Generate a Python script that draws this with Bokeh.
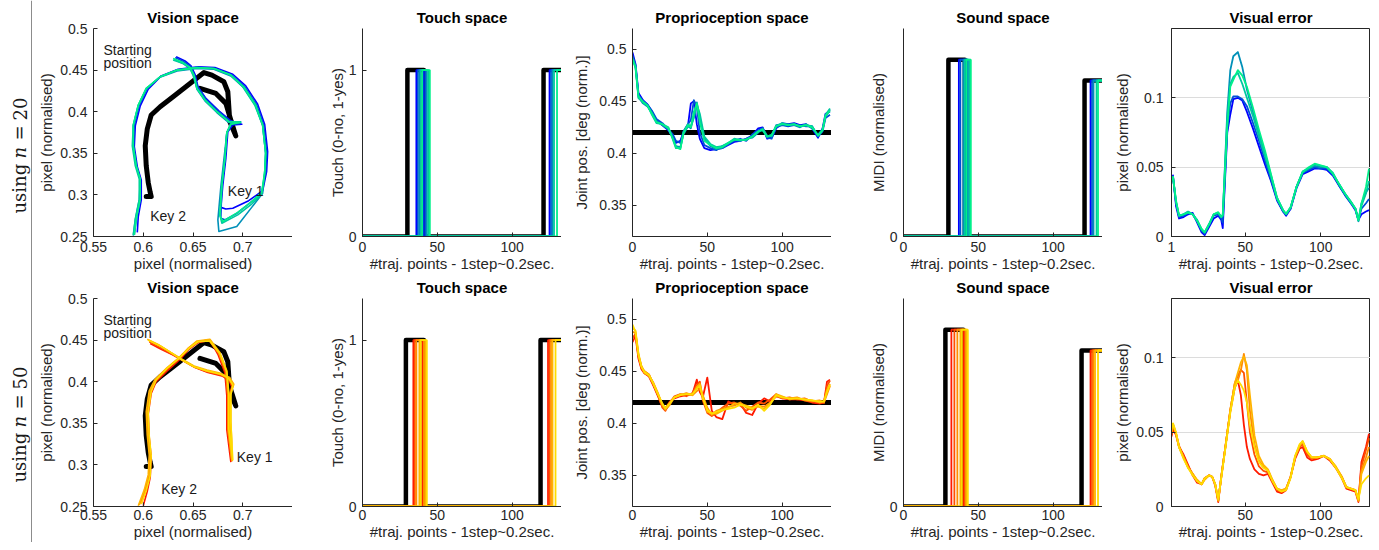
import math
from bokeh.plotting import figure
from bokeh.layouts import row, column
from bokeh.models import Range1d, FixedTicker, Label, Span, CustomJSTickFormatter
from bokeh.embed import file_html
from bokeh.resources import INLINE

# ---------------------------------------------------------------- data
N_STEPS = 133

colors20 = ["#0000ff", "#0050d8", "#0090b8", "#00c8a0", "#00f08a"]
colors50 = ["#ff1a00", "#ff5000", "#ff8c00", "#ffb400", "#ffdc00"]

# Vision space - target (black) trajectory
vis_target_x = [0.657, 0.673, 0.683, 0.688, 0.693, 0.687, 0.685, 0.681, 0.669, 0.661, 0.647,
                0.630, 0.617, 0.608, 0.604, 0.602, 0.603, 0.605, 0.607, 0.608, 0.603]
vis_target_y = [0.428, 0.422, 0.410, 0.390, 0.371, 0.388, 0.424, 0.436, 0.444, 0.447, 0.434,
                0.418, 0.406, 0.396, 0.379, 0.359, 0.335, 0.315, 0.303, 0.298, 0.298]

# Vision space - n = 20 trials
vis20_x = [
    [0.633, 0.642, 0.648, 0.652, 0.655, 0.663, 0.676, 0.688, 0.699, 0.690, 0.685, 0.683, 0.680, 0.678, 0.683, 0.690, 0.706, 0.720, 0.724, 0.725, 0.722, 0.715, 0.703, 0.690, 0.672, 0.655, 0.635, 0.618, 0.605, 0.597, 0.592, 0.591, 0.594, 0.598, 0.598, 0.595, 0.594],
    [0.632, 0.641, 0.648, 0.651, 0.655, 0.663, 0.675, 0.687, 0.697, 0.689, 0.684, 0.682, 0.679, 0.678, 0.682, 0.693, 0.707, 0.719, 0.723, 0.724, 0.721, 0.714, 0.702, 0.689, 0.672, 0.654, 0.634, 0.617, 0.604, 0.596, 0.591, 0.590, 0.593, 0.597, 0.597, 0.593, 0.591],
    [0.631, 0.640, 0.647, 0.651, 0.654, 0.662, 0.674, 0.686, 0.698, 0.688, 0.684, 0.681, 0.678, 0.675, 0.676, 0.694, 0.709, 0.720, 0.722, 0.723, 0.720, 0.713, 0.701, 0.688, 0.671, 0.654, 0.634, 0.616, 0.603, 0.595, 0.590, 0.590, 0.593, 0.597, 0.596, 0.592, 0.590],
    [0.630, 0.640, 0.647, 0.650, 0.654, 0.662, 0.674, 0.686, 0.697, 0.688, 0.684, 0.682, 0.679, 0.677, 0.679, 0.695, 0.709, 0.719, 0.722, 0.723, 0.720, 0.712, 0.700, 0.688, 0.671, 0.654, 0.634, 0.617, 0.603, 0.595, 0.590, 0.589, 0.592, 0.596, 0.596, 0.592, 0.590],
    [0.630, 0.640, 0.647, 0.651, 0.654, 0.662, 0.674, 0.686, 0.698, 0.688, 0.684, 0.682, 0.679, 0.677, 0.680, 0.695, 0.708, 0.719, 0.722, 0.723, 0.720, 0.713, 0.701, 0.688, 0.671, 0.654, 0.634, 0.617, 0.603, 0.595, 0.590, 0.590, 0.593, 0.597, 0.597, 0.593, 0.591],
]
vis20_y = [
    [0.466, 0.461, 0.455, 0.445, 0.430, 0.416, 0.401, 0.389, 0.385, 0.384, 0.376, 0.344, 0.312, 0.285, 0.283, 0.284, 0.293, 0.305, 0.328, 0.352, 0.385, 0.409, 0.431, 0.445, 0.453, 0.454, 0.451, 0.443, 0.427, 0.407, 0.383, 0.358, 0.334, 0.318, 0.294, 0.274, 0.255],
    [0.465, 0.460, 0.454, 0.445, 0.429, 0.415, 0.401, 0.389, 0.386, 0.385, 0.375, 0.343, 0.311, 0.272, 0.270, 0.277, 0.290, 0.302, 0.327, 0.351, 0.384, 0.408, 0.430, 0.444, 0.452, 0.453, 0.450, 0.442, 0.428, 0.408, 0.384, 0.359, 0.335, 0.319, 0.295, 0.271, 0.252],
    [0.463, 0.458, 0.452, 0.443, 0.427, 0.413, 0.399, 0.387, 0.388, 0.386, 0.374, 0.342, 0.310, 0.270, 0.256, 0.262, 0.285, 0.302, 0.326, 0.350, 0.383, 0.407, 0.429, 0.443, 0.451, 0.452, 0.449, 0.441, 0.427, 0.407, 0.383, 0.358, 0.334, 0.318, 0.294, 0.270, 0.251],
    [0.462, 0.458, 0.452, 0.444, 0.428, 0.414, 0.400, 0.388, 0.388, 0.385, 0.375, 0.343, 0.311, 0.276, 0.266, 0.276, 0.289, 0.301, 0.326, 0.350, 0.384, 0.408, 0.430, 0.444, 0.452, 0.453, 0.450, 0.442, 0.428, 0.408, 0.384, 0.359, 0.335, 0.319, 0.295, 0.271, 0.252],
    [0.464, 0.459, 0.453, 0.444, 0.428, 0.414, 0.400, 0.388, 0.387, 0.385, 0.375, 0.343, 0.311, 0.275, 0.268, 0.279, 0.291, 0.303, 0.327, 0.351, 0.384, 0.408, 0.430, 0.444, 0.452, 0.453, 0.450, 0.442, 0.428, 0.408, 0.384, 0.359, 0.335, 0.319, 0.295, 0.271, 0.252],
]

# Vision space - n = 50 trials
vis50_x = [
    [0.607, 0.618, 0.630, 0.640, 0.652, 0.665, 0.679, 0.686, 0.689, 0.686, 0.686, 0.687, 0.688, 0.684, 0.684, 0.682, 0.675, 0.667, 0.655, 0.646, 0.637, 0.625, 0.613, 0.608, 0.605, 0.606, 0.608, 0.607, 0.604, 0.600],
    [0.606, 0.617, 0.629, 0.640, 0.651, 0.664, 0.678, 0.686, 0.690, 0.687, 0.687, 0.688, 0.689, 0.685, 0.685, 0.683, 0.676, 0.666, 0.654, 0.645, 0.636, 0.624, 0.612, 0.607, 0.604, 0.605, 0.607, 0.606, 0.602, 0.598],
    [0.605, 0.617, 0.629, 0.639, 0.651, 0.664, 0.678, 0.686, 0.690, 0.687, 0.687, 0.688, 0.689, 0.685, 0.685, 0.683, 0.676, 0.666, 0.654, 0.646, 0.636, 0.624, 0.612, 0.607, 0.604, 0.605, 0.607, 0.606, 0.602, 0.596],
    [0.604, 0.616, 0.628, 0.639, 0.651, 0.664, 0.678, 0.687, 0.691, 0.688, 0.688, 0.689, 0.689, 0.686, 0.686, 0.684, 0.677, 0.667, 0.654, 0.646, 0.636, 0.624, 0.612, 0.606, 0.603, 0.604, 0.606, 0.605, 0.601, 0.595],
    [0.605, 0.617, 0.629, 0.639, 0.651, 0.664, 0.678, 0.686, 0.690, 0.688, 0.688, 0.689, 0.690, 0.686, 0.686, 0.684, 0.677, 0.667, 0.655, 0.646, 0.636, 0.624, 0.613, 0.608, 0.605, 0.606, 0.608, 0.607, 0.603, 0.598],
]
vis50_y = [
    [0.446, 0.439, 0.432, 0.425, 0.417, 0.411, 0.407, 0.402, 0.394, 0.382, 0.350, 0.326, 0.304, 0.342, 0.383, 0.411, 0.433, 0.450, 0.447, 0.439, 0.427, 0.414, 0.400, 0.386, 0.361, 0.333, 0.309, 0.285, 0.268, 0.251],
    [0.448, 0.441, 0.433, 0.426, 0.418, 0.412, 0.408, 0.403, 0.395, 0.383, 0.351, 0.327, 0.305, 0.343, 0.384, 0.412, 0.434, 0.450, 0.448, 0.440, 0.428, 0.415, 0.401, 0.387, 0.362, 0.334, 0.310, 0.286, 0.270, 0.253],
    [0.450, 0.443, 0.434, 0.426, 0.418, 0.413, 0.409, 0.404, 0.396, 0.384, 0.351, 0.327, 0.305, 0.343, 0.384, 0.412, 0.434, 0.450, 0.448, 0.440, 0.428, 0.416, 0.402, 0.388, 0.363, 0.335, 0.311, 0.287, 0.269, 0.252],
    [0.451, 0.444, 0.435, 0.427, 0.419, 0.414, 0.410, 0.405, 0.397, 0.385, 0.352, 0.328, 0.306, 0.344, 0.385, 0.413, 0.435, 0.451, 0.449, 0.441, 0.429, 0.417, 0.403, 0.389, 0.364, 0.336, 0.312, 0.288, 0.270, 0.251],
    [0.450, 0.443, 0.434, 0.426, 0.418, 0.413, 0.409, 0.404, 0.396, 0.384, 0.351, 0.327, 0.306, 0.343, 0.384, 0.412, 0.434, 0.449, 0.448, 0.440, 0.428, 0.416, 0.402, 0.388, 0.363, 0.335, 0.311, 0.287, 0.269, 0.253],
]

# Touch / sound: target (black) onset, offset, second onset; trial onsets/offsets
touch_level = 1.0
sound_level1 = 0.85
sound_level2 = 0.75

touch20_target = [30, 41, 121]
touch20_on1 = [36, 37, 38, 39, 40]
touch20_off1 = [41, 42, 43, 44, 45]
touch20_on2 = [125, 126, 127, 128, 130]

sound20_target = [30, 41, 121]
sound20_on1 = [37, 38, 40, 41, 42]
sound20_off1 = [42, 43, 43, 44, 45]
sound20_on2 = [125, 126, 127, 129, 130]

touch50_target = [29, 41, 119]
touch50_on1 = [34, 35, 36, 38, 39]
touch50_off1 = [40, 41, 41, 42, 43]
touch50_on2 = [124, 125, 126, 127, 129]

sound50_target = [28, 40, 119]
sound50_on1 = [32, 34, 36, 38, 39]
sound50_off1 = [40, 41, 42, 42, 43]
sound50_on2 = [125, 126, 127, 128, 130]

# Proprioception
prop_target_x = [0, 133]
prop_target_y = [0.42, 0.42]

prop20_x = [0, 2, 4, 7, 10, 13, 16, 20, 24, 27, 29, 32, 34, 37, 39, 41, 43, 45, 48, 52, 56, 60, 64, 68, 72,
            76, 80, 84, 87, 90, 93, 96, 100, 104, 108, 112, 116, 120, 124, 127, 129, 132]
prop20_y = [
    [0.497, 0.486, 0.458, 0.451, 0.447, 0.440, 0.432, 0.427, 0.422, 0.416, 0.410, 0.412, 0.420, 0.426, 0.448, 0.450, 0.428, 0.414, 0.405, 0.403, 0.404, 0.405, 0.408, 0.411, 0.412, 0.414, 0.417, 0.424, 0.425, 0.414, 0.415, 0.424, 0.429, 0.428, 0.429, 0.427, 0.428, 0.424, 0.415, 0.424, 0.438, 0.440],
    [0.494, 0.485, 0.456, 0.450, 0.447, 0.441, 0.433, 0.429, 0.423, 0.418, 0.412, 0.410, 0.421, 0.428, 0.432, 0.451, 0.445, 0.420, 0.408, 0.405, 0.403, 0.407, 0.409, 0.412, 0.414, 0.412, 0.418, 0.422, 0.424, 0.415, 0.414, 0.425, 0.427, 0.426, 0.427, 0.427, 0.426, 0.426, 0.416, 0.421, 0.434, 0.437],
    [0.492, 0.484, 0.454, 0.448, 0.445, 0.439, 0.431, 0.427, 0.423, 0.415, 0.407, 0.406, 0.418, 0.426, 0.424, 0.436, 0.449, 0.434, 0.414, 0.407, 0.404, 0.405, 0.409, 0.413, 0.412, 0.414, 0.415, 0.420, 0.424, 0.417, 0.416, 0.427, 0.428, 0.428, 0.427, 0.425, 0.428, 0.424, 0.418, 0.423, 0.435, 0.442],
    [0.491, 0.482, 0.453, 0.450, 0.446, 0.437, 0.429, 0.428, 0.425, 0.413, 0.405, 0.405, 0.420, 0.428, 0.426, 0.434, 0.447, 0.438, 0.416, 0.409, 0.406, 0.407, 0.410, 0.414, 0.413, 0.413, 0.416, 0.421, 0.422, 0.416, 0.418, 0.426, 0.429, 0.427, 0.428, 0.426, 0.427, 0.426, 0.417, 0.422, 0.437, 0.443],
    [0.490, 0.483, 0.455, 0.449, 0.446, 0.438, 0.430, 0.428, 0.424, 0.414, 0.406, 0.404, 0.419, 0.427, 0.425, 0.440, 0.448, 0.430, 0.412, 0.408, 0.405, 0.406, 0.410, 0.413, 0.413, 0.413, 0.416, 0.421, 0.423, 0.416, 0.417, 0.426, 0.428, 0.427, 0.428, 0.426, 0.427, 0.425, 0.417, 0.422, 0.436, 0.441],
]

prop50_x = [0, 2, 4, 6, 8, 11, 14, 17, 20, 22, 25, 28, 32, 36, 40, 43, 45, 47, 50, 53, 56, 60, 64, 68,
            72, 76, 80, 84, 88, 92, 96, 100, 105, 110, 115, 120, 125, 128, 130, 132]
prop50_y = [
    [0.478, 0.484, 0.462, 0.452, 0.448, 0.445, 0.436, 0.426, 0.416, 0.414, 0.421, 0.424, 0.426, 0.427, 0.428, 0.442, 0.430, 0.425, 0.444, 0.412, 0.406, 0.404, 0.421, 0.418, 0.419, 0.410, 0.408, 0.419, 0.424, 0.421, 0.426, 0.424, 0.423, 0.423, 0.422, 0.420, 0.419, 0.420, 0.440, 0.442],
    [0.482, 0.486, 0.464, 0.453, 0.450, 0.447, 0.437, 0.427, 0.415, 0.412, 0.420, 0.426, 0.428, 0.426, 0.429, 0.437, 0.440, 0.422, 0.410, 0.407, 0.410, 0.415, 0.419, 0.420, 0.417, 0.412, 0.416, 0.420, 0.419, 0.423, 0.428, 0.424, 0.425, 0.423, 0.424, 0.421, 0.420, 0.420, 0.436, 0.441],
    [0.488, 0.487, 0.465, 0.455, 0.448, 0.446, 0.439, 0.429, 0.417, 0.413, 0.418, 0.425, 0.427, 0.429, 0.427, 0.431, 0.433, 0.427, 0.415, 0.408, 0.412, 0.414, 0.416, 0.417, 0.420, 0.415, 0.413, 0.417, 0.416, 0.420, 0.426, 0.425, 0.424, 0.425, 0.422, 0.421, 0.422, 0.420, 0.428, 0.436],
    [0.492, 0.489, 0.467, 0.455, 0.450, 0.447, 0.438, 0.428, 0.418, 0.415, 0.420, 0.425, 0.428, 0.428, 0.427, 0.435, 0.438, 0.426, 0.411, 0.410, 0.409, 0.412, 0.415, 0.419, 0.419, 0.417, 0.415, 0.416, 0.414, 0.419, 0.428, 0.426, 0.423, 0.424, 0.423, 0.422, 0.420, 0.421, 0.432, 0.438],
    [0.495, 0.488, 0.466, 0.454, 0.449, 0.446, 0.438, 0.428, 0.419, 0.414, 0.419, 0.425, 0.427, 0.428, 0.428, 0.433, 0.436, 0.424, 0.413, 0.409, 0.411, 0.413, 0.414, 0.415, 0.418, 0.416, 0.414, 0.418, 0.412, 0.418, 0.427, 0.425, 0.424, 0.424, 0.423, 0.422, 0.421, 0.421, 0.430, 0.437],
]

# Visual error
verr20_x = [1, 2, 4, 6, 9, 12, 15, 18, 21, 23, 26, 29, 32, 34, 35, 38, 40, 42, 45, 48, 51, 55, 59, 63, 67,
            71, 75, 77, 80, 84, 88, 92, 96, 100, 104, 108, 112, 116, 120, 123, 125, 127, 130, 132]
verr20_y = [
    [0.040, 0.044, 0.022, 0.013, 0.014, 0.016, 0.017, 0.010, 0.003, 0.001, 0.007, 0.013, 0.015, 0.012, 0.006, 0.075, 0.088, 0.099, 0.100, 0.098, 0.090, 0.078, 0.065, 0.052, 0.040, 0.026, 0.018, 0.015, 0.020, 0.035, 0.045, 0.047, 0.049, 0.049, 0.048, 0.044, 0.037, 0.030, 0.024, 0.019, 0.012, 0.016, 0.018, 0.019],
    [0.041, 0.043, 0.024, 0.014, 0.015, 0.017, 0.016, 0.011, 0.004, 0.002, 0.008, 0.015, 0.016, 0.013, 0.010, 0.078, 0.096, 0.101, 0.101, 0.099, 0.094, 0.082, 0.069, 0.055, 0.041, 0.027, 0.018, 0.016, 0.020, 0.036, 0.046, 0.048, 0.050, 0.049, 0.049, 0.045, 0.037, 0.030, 0.024, 0.020, 0.012, 0.020, 0.024, 0.027],
    [0.040, 0.042, 0.025, 0.015, 0.016, 0.018, 0.016, 0.012, 0.005, 0.003, 0.009, 0.016, 0.017, 0.014, 0.015, 0.090, 0.120, 0.130, 0.133, 0.122, 0.106, 0.090, 0.075, 0.060, 0.044, 0.028, 0.019, 0.016, 0.021, 0.036, 0.046, 0.049, 0.051, 0.050, 0.050, 0.045, 0.038, 0.031, 0.025, 0.020, 0.011, 0.024, 0.032, 0.035],
    [0.041, 0.043, 0.025, 0.015, 0.016, 0.017, 0.016, 0.011, 0.005, 0.003, 0.009, 0.016, 0.017, 0.014, 0.015, 0.085, 0.110, 0.115, 0.118, 0.110, 0.100, 0.087, 0.072, 0.058, 0.043, 0.027, 0.019, 0.016, 0.021, 0.036, 0.047, 0.049, 0.052, 0.051, 0.050, 0.046, 0.038, 0.031, 0.025, 0.020, 0.012, 0.022, 0.031, 0.040],
    [0.0405, 0.043, 0.026, 0.015, 0.016, 0.0176, 0.016, 0.0116, 0.0055, 0.003, 0.009, 0.016, 0.0176, 0.014, 0.016, 0.079, 0.108, 0.113, 0.120, 0.116, 0.108, 0.093, 0.077, 0.062, 0.045, 0.028, 0.019, 0.0164, 0.021, 0.036, 0.0465, 0.050, 0.0525, 0.0513, 0.050, 0.0453, 0.038, 0.031, 0.0248, 0.020, 0.0116, 0.0236, 0.0357, 0.049],
]

verr50_x = [1, 2, 4, 6, 9, 12, 15, 18, 21, 23, 26, 28, 30, 32, 34, 37, 40, 43, 45, 47, 49, 51, 53, 56, 59,
            62, 65, 68, 71, 74, 77, 80, 83, 86, 88, 91, 94, 98, 102, 106, 110, 114, 117, 120, 123, 125, 127, 130, 132]
verr50_y = [
    [0.047, 0.052, 0.048, 0.040, 0.035, 0.028, 0.021, 0.016, 0.015, 0.019, 0.021, 0.020, 0.014, 0.003, 0.020, 0.042, 0.064, 0.080, 0.085, 0.075, 0.055, 0.040, 0.032, 0.025, 0.022, 0.021, 0.022, 0.016, 0.010, 0.009, 0.011, 0.020, 0.032, 0.039, 0.040, 0.033, 0.031, 0.032, 0.034, 0.031, 0.026, 0.019, 0.012, 0.011, 0.010, 0.003, 0.030, 0.040, 0.049],
    [0.048, 0.054, 0.049, 0.041, 0.034, 0.027, 0.022, 0.017, 0.015, 0.019, 0.021, 0.020, 0.015, 0.004, 0.020, 0.042, 0.065, 0.083, 0.088, 0.092, 0.090, 0.070, 0.050, 0.035, 0.027, 0.024, 0.023, 0.017, 0.011, 0.010, 0.012, 0.020, 0.033, 0.040, 0.042, 0.035, 0.032, 0.033, 0.034, 0.032, 0.026, 0.020, 0.013, 0.012, 0.011, 0.004, 0.027, 0.038, 0.046],
    [0.049, 0.0556, 0.049, 0.040, 0.033, 0.0265, 0.022, 0.0175, 0.015, 0.0186, 0.0209, 0.0197, 0.015, 0.004, 0.0197, 0.042, 0.0646, 0.0825, 0.0848, 0.0915, 0.1027, 0.0915, 0.0646, 0.042, 0.031, 0.0265, 0.0242, 0.0175, 0.0119, 0.0108, 0.0119, 0.0197, 0.033, 0.041, 0.0433, 0.0365, 0.033, 0.033, 0.0343, 0.032, 0.0265, 0.0197, 0.013, 0.0119, 0.0108, 0.004, 0.0242, 0.033, 0.040],
    [0.050, 0.055, 0.049, 0.040, 0.033, 0.026, 0.022, 0.018, 0.015, 0.018, 0.021, 0.020, 0.015, 0.004, 0.020, 0.042, 0.065, 0.083, 0.090, 0.097, 0.101, 0.095, 0.075, 0.048, 0.034, 0.028, 0.025, 0.018, 0.012, 0.011, 0.012, 0.020, 0.034, 0.041, 0.044, 0.037, 0.033, 0.033, 0.034, 0.032, 0.027, 0.020, 0.013, 0.012, 0.011, 0.004, 0.022, 0.030, 0.034],
    [0.052, 0.056, 0.050, 0.040, 0.032, 0.026, 0.021, 0.017, 0.015, 0.019, 0.021, 0.020, 0.015, 0.005, 0.019, 0.041, 0.063, 0.080, 0.085, 0.082, 0.078, 0.070, 0.055, 0.040, 0.030, 0.026, 0.024, 0.017, 0.012, 0.010, 0.011, 0.019, 0.034, 0.042, 0.044, 0.037, 0.033, 0.033, 0.034, 0.032, 0.026, 0.019, 0.013, 0.012, 0.011, 0.005, 0.015, 0.019, 0.021],
]

# ticks
vis_xticks = [0.55, 0.6, 0.65, 0.7]
vis_yticks = [0.25, 0.3, 0.35, 0.4, 0.45, 0.5]
step_xticks = [0, 50, 100]
touch_yticks = [0, 1]
sound_yticks = [0]
prop_yticks = [0.35, 0.4, 0.45, 0.5]
verr20_xticks = [1, 50, 100]
verr50_xticks = [50, 100]
verr_yticks = [0, 0.05, 0.1]

# row captions
row_caption_20 = ["using", "n", "=", "20"]
row_caption_50 = ["using", "n", "=", "50"]

# ---------------------------------------------------------------- styling
FONT = "Liberation Sans"
AX = "#262626"
FRAME_W = 199
FRAME_H = 208
XLAB = "#traj. points - 1step~0.2sec."

# row geometry: (top border, bottom border, x tick-label standoff)
ROW1 = (28, 38, 5)
ROW2 = (24, 36, 3)


def make_fig(title, xr, yr, left, geo, xticks, yticks, xlabel, ylabel,
             tick_std=7, lab_std=0, box=False):
    top, bottom, xstd = geo
    p = figure(title=title, x_range=Range1d(xr[0], xr[1]), y_range=Range1d(yr[0], yr[1]),
               frame_width=FRAME_W, frame_height=FRAME_H,
               min_border_left=left, min_border_right=0,
               min_border_top=top, min_border_bottom=bottom,
               output_backend="svg", toolbar_location=None)
    p.title.text_font = FONT
    p.title.text_font_size = "15px"
    p.title.text_font_style = "bold"
    p.title.text_color = "#000000"
    p.title.align = "center"
    p.title.standoff = 5
    p.xgrid.visible = False
    p.ygrid.visible = False
    if box:
        p.outline_line_color = AX
        p.outline_line_alpha = 1.0
        p.outline_line_width = 1
        p.ygrid.visible = True
        p.ygrid.ticker = FixedTicker(ticks=yticks)
        p.ygrid.grid_line_color = "#dcdcdc"
        p.ygrid.grid_line_width = 1
    else:
        p.outline_line_color = None
    p.xaxis.ticker = FixedTicker(ticks=xticks)
    p.yaxis.ticker = FixedTicker(ticks=yticks)
    p.xaxis.axis_label = xlabel
    p.yaxis.axis_label = ylabel
    for ax in (p.xaxis[0], p.yaxis[0]):
        ax.formatter = CustomJSTickFormatter(code="return String(tick);")
        ax.axis_line_color = AX
        ax.axis_line_width = 1
        ax.major_tick_line_color = AX
        ax.major_tick_in = 4
        ax.major_tick_out = 0
        ax.minor_tick_line_color = None
        ax.major_label_text_font = FONT
        ax.major_label_text_font_size = "14px"
        ax.major_label_text_color = AX
        ax.axis_label_text_font = FONT
        ax.axis_label_text_font_size = "15px"
        ax.axis_label_text_font_style = "normal"
        ax.axis_label_text_color = AX
    p.xaxis.major_label_standoff = xstd
    p.xaxis.axis_label_standoff = 0
    p.yaxis.major_label_standoff = tick_std
    p.yaxis.axis_label_standoff = lab_std
    return p


def step(on1, off1, on2, h1, h2):
    return [0, on1, on1, off1, off1, on2, on2, N_STEPS], [0, 0, h1, h1, 0, 0, h2, h2]


def vision_panel(geo, trials_x, trials_y, colors, keys):
    p = make_fig("Vision space", (0.55, 0.75), (0.25, 0.5), 60, geo,
                 vis_xticks, vis_yticks, "pixel (normalised)", "pixel (normalised)",
                 tick_std=6, lab_std=2)
    p.line(vis_target_x, vis_target_y, line_color="black", line_width=5, line_join="round", line_cap="round")
    for xs, ys, c in zip(trials_x, trials_y, colors):
        p.line(xs, ys, line_color=c, line_width=1.6, line_join="round")
    for (tx, ty, txt) in keys:
        p.add_layout(Label(x=tx, y=ty, text=txt, text_font=FONT, text_font_size="14px",
                           text_color="#1a1a1a", text_baseline="alphabetic", text_align="left"))
    return p


def step_panel(title, geo, left, target, on1s, off1s, on2s, h1, h2, colors, yticks, ylabel):
    p = make_fig(title, (0, N_STEPS), (0, 1.25 if h1 == touch_level else 1.0), left, geo,
                 step_xticks, yticks, XLAB, ylabel, tick_std=6, lab_std=0)
    bx, by = step(target[0], target[1], target[2], h1, h2)
    p.line(bx, by, line_color="black", line_width=4.5, line_join="round")
    for a, b, c2, col in zip(on1s, off1s, on2s, colors):
        sx, sy = step(a, b, c2, h1, h2)
        p.line(sx, sy, line_color=col, line_width=1.8)
    return p


def prop_panel(geo, xs, trials, colors):
    p = make_fig("Proprioception space", (0, N_STEPS), (0.32, 0.52), 71, geo,
                 step_xticks, prop_yticks, XLAB, "Joint pos. [deg (norm.)]", tick_std=6, lab_std=6)
    p.line(prop_target_x, prop_target_y, line_color="black", line_width=5)
    for ys, c in zip(trials, colors):
        p.line(xs, ys, line_color=c, line_width=1.8, line_join="round")
    return p


def verr_panel(geo, xs, trials, colors, ymax, xticks):
    p = make_fig("Visual error", (1, N_STEPS), (0, ymax), 69, geo,
                 xticks, verr_yticks, XLAB, "pixel (normalised)", tick_std=8, lab_std=2, box=True)
    for ys, c in zip(trials, colors):
        p.line(xs, ys, line_color=c, line_width=1.8, line_join="round")
    return p


keys20 = [(0.56, 0.4746, "Starting"), (0.56, 0.4589, "position"),
          (0.685, 0.3043, "Key 1"), (0.607, 0.2742, "Key 2")]
keys50 = [(0.56, 0.4736, "Starting"), (0.56, 0.4580, "position"),
          (0.694, 0.3100, "Key 1"), (0.618, 0.2716, "Key 2")]

r1 = [
    vision_panel(ROW1, vis20_x, vis20_y, colors20, keys20),
    step_panel("Touch space", ROW1, 70, touch20_target, touch20_on1, touch20_off1, touch20_on2,
               touch_level, touch_level, colors20, touch_yticks, "Touch (0-no, 1-yes)"),
    prop_panel(ROW1, prop20_x, prop20_y, colors20),
    step_panel("Sound space", ROW1, 72, sound20_target, sound20_on1, sound20_off1, sound20_on2,
               sound_level1, sound_level2, colors20, sound_yticks, "MIDI (normalised)"),
    verr_panel(ROW1, verr20_x, verr20_y, colors20, 0.15, verr20_xticks),
]
r2 = [
    vision_panel(ROW2, vis50_x, vis50_y, colors50, keys50),
    step_panel("Touch space", ROW2, 70, touch50_target, touch50_on1, touch50_off1, touch50_on2,
               touch_level, touch_level, colors50, touch_yticks, "Touch (0-no, 1-yes)"),
    prop_panel(ROW2, prop50_x, prop50_y, colors50),
    step_panel("Sound space", ROW2, 72, sound50_target, sound50_on1, sound50_off1, sound50_on2,
               sound_level1, sound_level2, colors50, sound_yticks, "MIDI (normalised)"),
    verr_panel(ROW2, verr50_x, verr50_y, colors50, 0.14, verr50_xticks),
]

# ---------------------------------------------------------------- row captions (left strip)
LAB_W = 33
LH = ROW1[0] + FRAME_H + ROW1[1] + ROW2[0] + FRAME_H + ROW2[1]
lab = figure(frame_width=LAB_W, frame_height=LH, min_border=0, x_range=Range1d(0, LAB_W),
             y_range=Range1d(0, LH), x_axis_type=None, y_axis_type=None,
             output_backend="svg", toolbar_location=None)
lab.outline_line_color = None
lab.xgrid.visible = False
lab.ygrid.visible = False
lab.add_layout(Span(location=31, dimension="height", line_color="#8c8c8c", line_width=1))


def row_caption(words, start_from_top):
    offsets = [0, 55, 73, 93]
    styles = ["normal", "italic", "normal", "normal"]
    for txt, off, st in zip(words, offsets, styles):
        lab.add_layout(Label(x=19, y=LH - start_from_top + off, text=txt, angle=math.pi / 2,
                             text_font="DejaVu Serif", text_font_size="18px", text_font_style=st,
                             text_color="#1a1a1a", text_baseline="middle", text_align="left"))


row_caption(row_caption_20, 213)
row_caption(row_caption_50, 482)

layout = row(lab, column(row(*r1), row(*r2)))

open("out.html", "w").write(file_html(layout, INLINE))
